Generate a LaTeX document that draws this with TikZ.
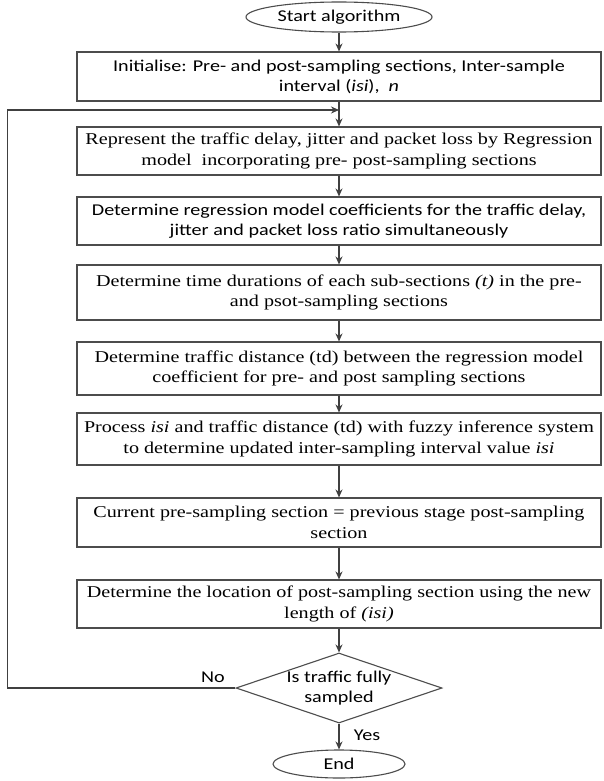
\documentclass[tikz,border=0pt]{standalone}
\usepackage{fontspec}
\setmainfont{Liberation Serif}[FakeStretch=1.22]
\newfontfamily\calibri{Carlito}[FakeStretch=1.22]
\usetikzlibrary{shapes.geometric,arrows.meta}

\begin{document}
\begin{tikzpicture}[x=1pt,y=-1pt,line width=1.1pt,
        box/.style={draw=black!70,rectangle,minimum width=524pt,minimum height=48pt,inner sep=0pt,align=center,font=\fontsize{16.5}{20.5}\selectfont},
        sbox/.style={box,font=\calibri\fontsize{16.5}{20}\selectfont},
        term/.style={draw=black!70,ellipse,inner sep=0pt,font=\calibri\fontsize{16.5}{20}\selectfont},
        flow/.style={draw=black!75,-{Stealth[length=8pt,width=7pt]}}]
    \useasboundingbox (0,0) rectangle (603,781);
    \node[term,minimum width=186pt,minimum height=30pt] (start) at (339,17) {Start algorithm};
    \node[sbox,minimum height=49pt] (init) at (339,76.5)
        {Initialise: Pre- and post-sampling sections, Inter-sample\\interval (\textit{isi}),\ \ \textit{n}};
    \node[box] (represent) at (339,151)
        {Represent the traffic delay, jitter and packet loss by Regression\\model\ \ incorporating pre- post-sampling sections};
    \node[sbox] (regress) at (339,221)
        {Determine regression model coefficients for the traffic delay,\\jitter and packet loss ratio simultaneously};
    \node[box,minimum height=55pt] (durations) at (339,292.5)
        {Determine time durations of each sub-sections \textit{(t)} in the pre-\\and psot-sampling sections};
    \node[box,minimum height=53pt] (distance) at (339,368.5)
        {Determine traffic distance (td) between the regression model\\coefficient for pre- and post sampling sections};
    \node[box,minimum height=52pt] (fuzzy) at (339,439)
        {Process \textit{isi} and traffic distance (td) with fuzzy inference system\\to determine updated inter-sampling interval value \textit{isi}};
    \node[box,minimum height=49pt] (current) at (339,522.5)
        {Current pre-sampling section = previous stage post-sampling\\section};
    \node[box] (locate) at (339,604)
        {Determine the location of post-sampling section using the new\\length of \textit{(isi)}};
    \node[draw=black!70,diamond,aspect=2.94,inner sep=-4pt,minimum width=206pt,minimum height=70pt,align=center,
        font=\calibri\fontsize{16.5}{20}\selectfont] (sampled) at (339,688) {Is traffic fully\\sampled};
    \node[term,minimum width=132pt,minimum height=28pt] (stop) at (339,764) {End};
    \node[font=\calibri\fontsize{16.5}{20}\selectfont] (no) at (213,677) {No};
    \node[font=\calibri\fontsize{16.5}{20}\selectfont] (yes) at (367,735) {Yes};
    \coordinate (back) at (339,110);
    \draw[flow] (start) -- (init);
    \draw[flow] (init) -- (represent);
    \draw[flow] (represent) -- (regress);
    \draw[flow] (regress) -- (durations);
    \draw[flow] (durations) -- (distance);
    \draw[flow] (distance) -- (fuzzy);
    \draw[flow] (fuzzy) -- (current);
    \draw[flow] (current) -- (locate);
    \draw[flow] (locate) -- (sampled);
    \draw[flow] (sampled) -- (stop);
    \draw[flow] (sampled.west) -- ++(-228,0) |- (back);
\end{tikzpicture}
\end{document}
